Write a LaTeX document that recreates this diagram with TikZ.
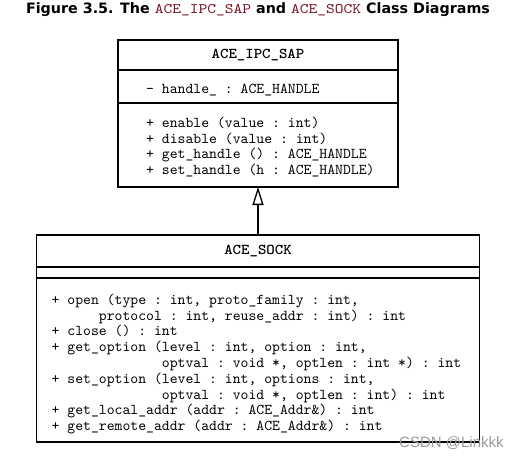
\documentclass[tikz,border=0pt]{standalone}
\usepackage{fontspec}
\setmainfont{DejaVu Sans}
\setmonofont{lmmono10-regular}[Extension=.otf, BoldFont=lmmonolt10-bold]
\newfontfamily\headfont{lmmonolt10-bold}[Extension=.otf, FakeStretch=1.07]
\newfontfamily\markfont{Liberation Sans}
\newfontfamily\titlecode{lmmono10-regular}[Extension=.otf, FakeStretch=1.15]
\usetikzlibrary{arrows.meta,positioning}
\definecolor{maroon}{HTML}{7A1022}
\definecolor{markgray}{HTML}{9A9A9A}
\tikzset{
  compartment/.style={draw=black, line width=1.3pt, outer sep=0pt, inner sep=0pt},
  classname/.style={compartment, font=\headfont\fontsize{15}{15.8}\selectfont},
  listing/.style={align=left, inner sep=0pt, anchor=west, font=\ttfamily\fontsize{15}{15.8}\selectfont},
  inherit/.style={-{Triangle[open, length=18pt, width=11pt]}, line width=1.3pt},
  caption/.style={font=\bfseries\fontsize{14.3}{16}\selectfont},
  watermark/.style={font=\markfont\fontsize{15}{17}\selectfont, text=markgray, inner sep=0pt}
}
\newcommand{\code}[1]{{\color{maroon}\titlecode\mdseries\fontsize{14.5}{16}\selectfont #1}}
\newcommand{\ind}[1]{\hspace*{#1\fontcharwd\font`x}}

\begin{document}
\begin{tikzpicture}[x=1pt, y=-1pt]
\useasboundingbox (0,0) rectangle (521,460);
\node[caption] (title) at (258,10) {Figure 3.5. The \code{ACE\_IPC\_SAP} and \code{ACE\_SOCK} Class Diagrams};
% ACE_IPC_SAP
\node[classname, minimum width=280pt, minimum height=30pt] (sap) at (258,55) {ACE\_IPC\_SAP};
\node[compartment, below=0pt of sap, minimum width=280pt, minimum height=33pt] (sapattr) {};
\node[compartment, below=0pt of sapattr, minimum width=280pt, minimum height=84pt] (sapops) {};
\node[listing, xshift=28pt, yshift=-4pt] (sapattrtext) at (sapattr.west) {- handle\_ : ACE\_HANDLE};
\node[listing, xshift=28pt, yshift=-2pt] (sapopstext) at (sapops.west) {+ enable (value : int)\\
+ disable (value : int)\\
+ get\_handle () : ACE\_HANDLE\\
+ set\_handle (h : ACE\_HANDLE)};
% ACE_SOCK
\node[classname, below=48pt of sapops, minimum width=443pt, minimum height=32pt] (sock) {ACE\_SOCK};
\node[compartment, below=0pt of sock, minimum width=443pt, minimum height=11pt] (sockattr) {};
\node[compartment, below=0pt of sockattr, minimum width=443pt, minimum height=164pt] (sockops) {};
\node[listing, xshift=15pt, yshift=-4pt] (sockopstext) at (sockops.west) {+ open (type : int, proto\_family : int,\\
\ind{6}protocol : int, reuse\_addr : int) : int\\
+ close () : int\\
+ get\_option (level : int, option : int,\\
\ind{14}optval : void *, optlen : int *) : int\\
+ set\_option (level : int, options : int,\\
\ind{14}optval : void *, optlen : int) : int\\
+ get\_local\_addr (addr : ACE\_Addr\&) : int\\
+ get\_remote\_addr (addr : ACE\_Addr\&) : int};
\draw[inherit] (sock.north) -- (sapops.south);
\node[watermark, anchor=west] (mark) at (399,443) {CSDN @Linkkk};
\end{tikzpicture}
\end{document}
